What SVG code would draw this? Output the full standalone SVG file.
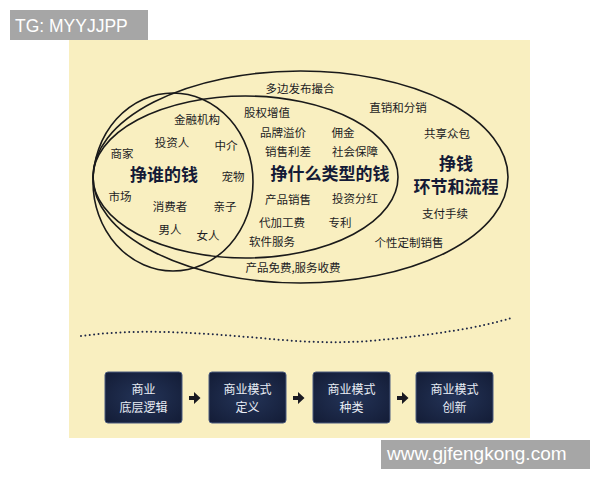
<svg xmlns="http://www.w3.org/2000/svg" width="600" height="480" viewBox="0 0 600 480">
<defs>
<style>
.t{font-family:"Noto Sans CJK SC","Liberation Sans",sans-serif;font-size:11.5px;fill:#1c1c24;text-anchor:middle}
.b{font-family:"Noto Sans CJK SC","Liberation Sans",sans-serif;font-size:17px;font-weight:bold;fill:#141a36;text-anchor:middle}
.bx{fill:url(#g);stroke:#4a5a7e;stroke-width:1}
.bt{font-family:"Noto Sans CJK SC","Liberation Sans",sans-serif;font-size:12px;fill:#e9edf5;text-anchor:middle}
.e{fill:none;stroke:#1a1a1a;stroke-width:1.6}
.wm{fill:#a6a6a6}
.wt{font-family:"Liberation Sans",Arial,sans-serif;fill:#ffffff}
</style>
<radialGradient id="g" cx="0.5" cy="0.5" r="0.7">
<stop offset="0" stop-color="#243458"/>
<stop offset="1" stop-color="#131c36"/>
</radialGradient>
</defs>
<rect width="600" height="480" fill="#ffffff"/>
<rect x="69" y="40" width="461" height="398" fill="#f9efc0"/>

<g id="ellipses">
<ellipse id="outer" class="e" cx="300.5" cy="177" rx="207.5" ry="106"/>
<ellipse id="middle" class="e" cx="245.5" cy="177" rx="152.5" ry="81"/>
<ellipse id="circle" class="e" cx="173" cy="182" rx="80" ry="89"/>
</g>

<g id="circle-texts">
<text class="t" x="197" y="124">金融机构</text>
<text class="t" x="172" y="147">投资人</text>
<text class="t" x="226" y="150">中介</text>
<text class="t" x="122" y="158">商家</text>
<text class="b" x="164" y="181">挣谁的钱</text>
<text class="t" x="233" y="181">宠物</text>
<text class="t" x="120" y="201">市场</text>
<text class="t" x="170" y="211">消费者</text>
<text class="t" x="225" y="211">亲子</text>
<text class="t" x="170" y="234">男人</text>
<text class="t" x="208" y="240">女人</text>
</g>

<g id="middle-texts">
<text class="t" x="267" y="117">股权增值</text>
<text class="t" x="283" y="137">品牌溢价</text>
<text class="t" x="343" y="137">佣金</text>
<text class="t" x="288" y="156">销售利差</text>
<text class="t" x="355" y="156">社会保障</text>
<text class="b" x="330" y="180">挣什么类型的钱</text>
<text class="t" x="288" y="204">产品销售</text>
<text class="t" x="355" y="203">投资分红</text>
<text class="t" x="282" y="227">代加工费</text>
<text class="t" x="340" y="227">专利</text>
<text class="t" x="272" y="246">软件服务</text>
</g>

<g id="outer-texts">
<text class="t" x="300" y="93">多边发布撮合</text>
<text class="t" x="398" y="112">直销和分销</text>
<text class="t" x="447" y="138">共享众包</text>
<text class="b" x="456" y="170">挣钱</text>
<text class="b" x="456" y="193">环节和流程</text>
<text class="t" x="445" y="218">支付手续</text>
<text class="t" x="409" y="247">个性定制销售</text>
<text class="t" x="293" y="272">产品免费,服务收费</text>
</g>

<path id="dotted" d="M81,336 C140,328 200,333 260,338 C300,342 340,344 380,340 C430,335 480,328 511,318" fill="none" stroke="#1e2746" stroke-width="2" stroke-linecap="round" stroke-dasharray="0 4.4"/>

<g id="box1">
<rect class="bx" x="105" y="372" width="77" height="51" rx="3"/>
<text class="bt" x="143.5" y="394">商业</text>
<text class="bt" x="143.5" y="412">底层逻辑</text>
</g>
<g id="box2">
<rect class="bx" x="209" y="372" width="77" height="51" rx="3"/>
<text class="bt" x="247.5" y="394">商业模式</text>
<text class="bt" x="247.5" y="412">定义</text>
</g>
<g id="box3">
<rect class="bx" x="313" y="372" width="77" height="51" rx="3"/>
<text class="bt" x="351.5" y="394">商业模式</text>
<text class="bt" x="351.5" y="412">种类</text>
</g>
<g id="box4">
<rect class="bx" x="416" y="372" width="77" height="51" rx="3"/>
<text class="bt" x="454.5" y="394">商业模式</text>
<text class="bt" x="454.5" y="412">创新</text>
</g>

<g id="connectors" fill="#1a1a22">
<path d="M189,396 h5 v-4 l6.5,6 l-6.5,6 v-4 h-5z"/>
<path d="M293,396 h5 v-4 l6.5,6 l-6.5,6 v-4 h-5z"/>
<path d="M397,396 h5 v-4 l6.5,6 l-6.5,6 v-4 h-5z"/>
</g>

<g id="watermarks">
<rect class="wm" x="10" y="10" width="138" height="30"/>
<text class="wt" x="15" y="32" font-size="17.5">TG: MYYJJPP</text>
<rect class="wm" x="381" y="440" width="209" height="29"/>
<text class="wt" x="387" y="460" font-size="19">www.gjfengkong.com</text>
</g>
</svg>
